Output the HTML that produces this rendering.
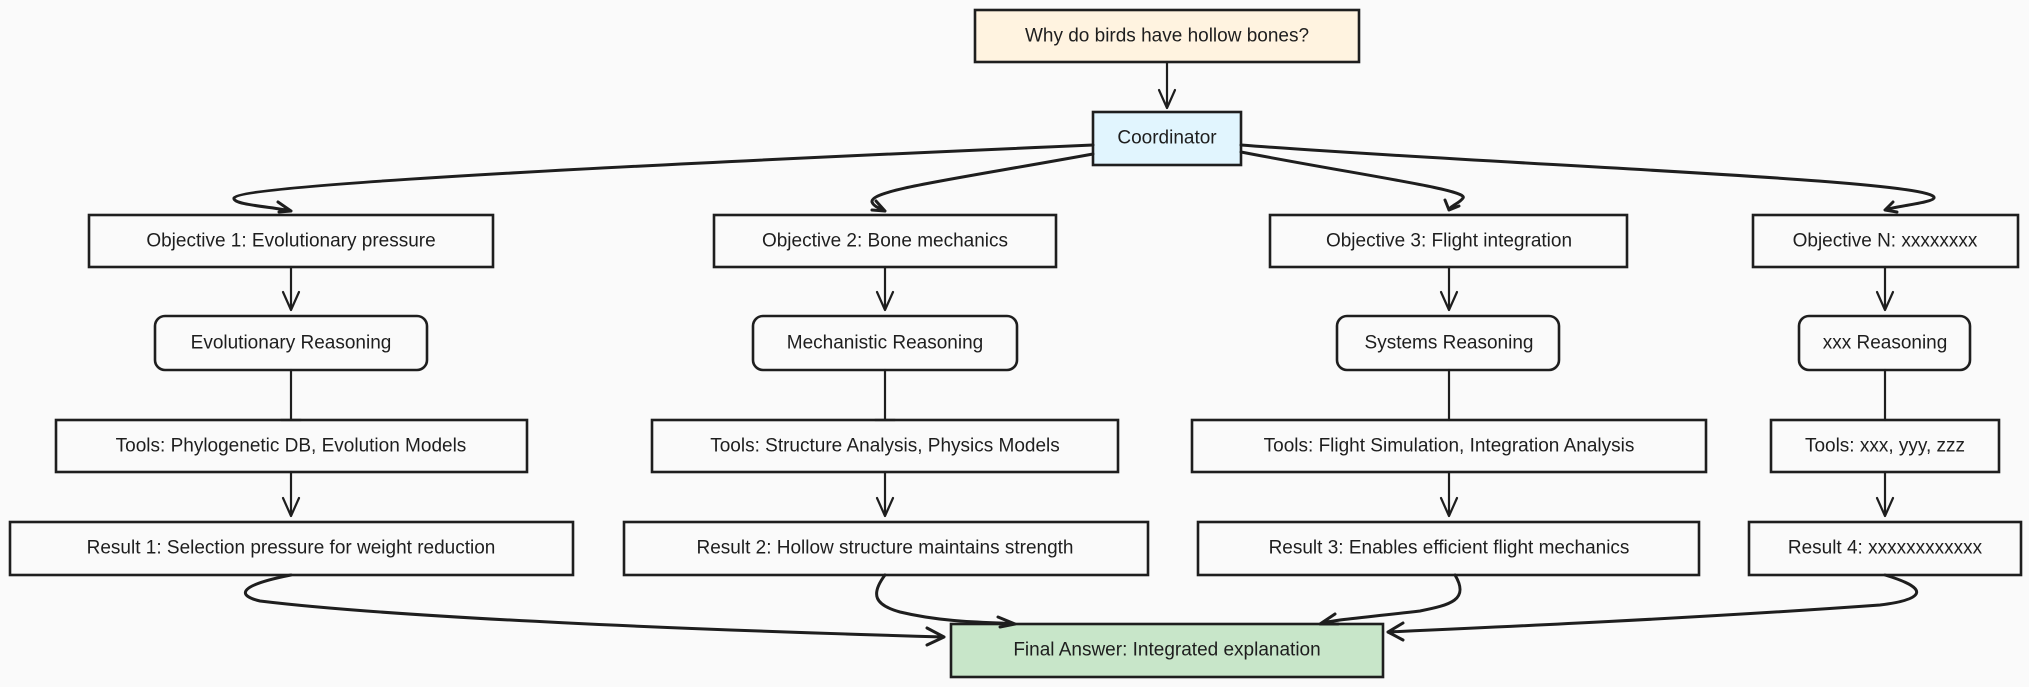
<!DOCTYPE html>
<html><head><meta charset="utf-8"><style>
body{margin:0;background:#fafafa;}
svg{display:block}
text{font-family:"Liberation Sans",sans-serif;font-size:19px;fill:#1e1e1e;text-anchor:middle;dominant-baseline:central}
.b{fill:#fafafa;stroke:#1e1e1e;stroke-width:2.6}
.e{fill:none;stroke:#1e1e1e;stroke-width:2.2;stroke-linecap:round;stroke-linejoin:round}
.c{stroke-width:3}
</style></head><body>
<svg width="2029" height="687" viewBox="0 0 2029 687">
<rect class="b" x="975" y="10" width="384" height="52" style="fill:#fff3e0"/>
<text x="1167" y="36">Why do birds have hollow bones?</text>
<rect class="b" x="1093" y="112" width="148" height="53" style="fill:#e1f5fe"/>
<text x="1167" y="138">Coordinator</text>

<rect class="b" x="89" y="215" width="404" height="52"/><text x="291" y="241">Objective 1: Evolutionary pressure</text>
<rect class="b" x="714" y="215" width="342" height="52"/><text x="885" y="241">Objective 2: Bone mechanics</text>
<rect class="b" x="1270" y="215" width="357" height="52"/><text x="1449" y="241">Objective 3: Flight integration</text>
<rect class="b" x="1753" y="215" width="265" height="52"/><text x="1885" y="241">Objective N: xxxxxxxx</text>

<rect class="b" x="155" y="316" width="272" height="54" rx="10"/><text x="291" y="343">Evolutionary Reasoning</text>
<rect class="b" x="753" y="316" width="264" height="54" rx="10"/><text x="885" y="343">Mechanistic Reasoning</text>
<rect class="b" x="1337" y="316" width="222" height="54" rx="10"/><text x="1449" y="343">Systems Reasoning</text>
<rect class="b" x="1799" y="316" width="171" height="54" rx="10"/><text x="1885" y="343">xxx Reasoning</text>

<rect class="b" x="56" y="420" width="471" height="52"/><text x="291" y="446">Tools: Phylogenetic DB, Evolution Models</text>
<rect class="b" x="652" y="420" width="466" height="52"/><text x="885" y="446">Tools: Structure Analysis, Physics Models</text>
<rect class="b" x="1192" y="420" width="514" height="52"/><text x="1449" y="446">Tools: Flight Simulation, Integration Analysis</text>
<rect class="b" x="1771" y="420" width="228" height="52"/><text x="1885" y="446">Tools: xxx, yyy, zzz</text>

<rect class="b" x="10" y="522" width="563" height="53"/><text x="291" y="548">Result 1: Selection pressure for weight reduction</text>
<rect class="b" x="624" y="522" width="524" height="53"/><text x="885" y="548">Result 2: Hollow structure maintains strength</text>
<rect class="b" x="1198" y="522" width="501" height="53"/><text x="1449" y="548">Result 3: Enables efficient flight mechanics</text>
<rect class="b" x="1749" y="522" width="272" height="53"/><text x="1885" y="548">Result 4: xxxxxxxxxxxx</text>

<rect class="b" x="951" y="624" width="432" height="53" style="fill:#c8e6c9"/>
<text x="1167" y="650">Final Answer: Integrated explanation</text>

<path class="e" d="M1167,62 V108 M1159,90 L1167,108 L1175,90"/>
<g class="e c">
<path d="M1093,145 C700,162 240,184 234,198 C232,205 275,207 291,211 M278,202 L291,211 L279,212"/>
<path d="M1093,154 C950,180 870,190 872,202 C874,207 880,208 885,211 M876,201 L885,211 L872,210"/>
<path d="M1241,152 C1360,175 1470,190 1463,198 C1460,203 1450,206 1449,210 M1445,200 L1449,210 L1459,206"/>
<path d="M1241,145 C1500,165 1940,180 1934,198 C1932,203 1895,206 1885,210 M1893,202 L1885,210 L1897,212"/>
<path d="M291,575 C240,585 235,595 260,601 C400,618 700,630 944,637 M927,628 L944,637 L927,645"/>
<path d="M885,575 C870,595 875,605 900,612 C950,624 1000,622 1015,624 M998,617 L1015,624 L1000,627"/>
<path d="M1455,575 C1470,600 1450,605 1420,611 C1360,618 1330,620 1320,624 M1335,614 L1320,624 L1338,624"/>
<path d="M1885,575 C1935,590 1920,600 1880,605 C1700,618 1500,627 1388,632 M1403,623 L1388,632 L1403,640"/>
</g>
<g class="e">
<path d="M291,267 V310 M283,292 L291,310 L299,292"/>
<path d="M885,267 V310 M877,292 L885,310 L893,292"/>
<path d="M1449,267 V310 M1441,292 L1449,310 L1457,292"/>
<path d="M1885,267 V310 M1877,292 L1885,310 L1893,292"/>
<path d="M291,370 V420 M281,420 H301"/>
<path d="M885,370 V420 M875,420 H895"/>
<path d="M1449,370 V420"/>
<path d="M1885,370 V420"/>
<path d="M291,472 V516 M283,498 L291,516 L299,498"/>
<path d="M885,472 V516 M877,498 L885,516 L893,498"/>
<path d="M1449,472 V516 M1441,498 L1449,516 L1457,498"/>
<path d="M1885,472 V516 M1877,498 L1885,516 L1893,498"/>
</g>
</svg>
</body></html>
